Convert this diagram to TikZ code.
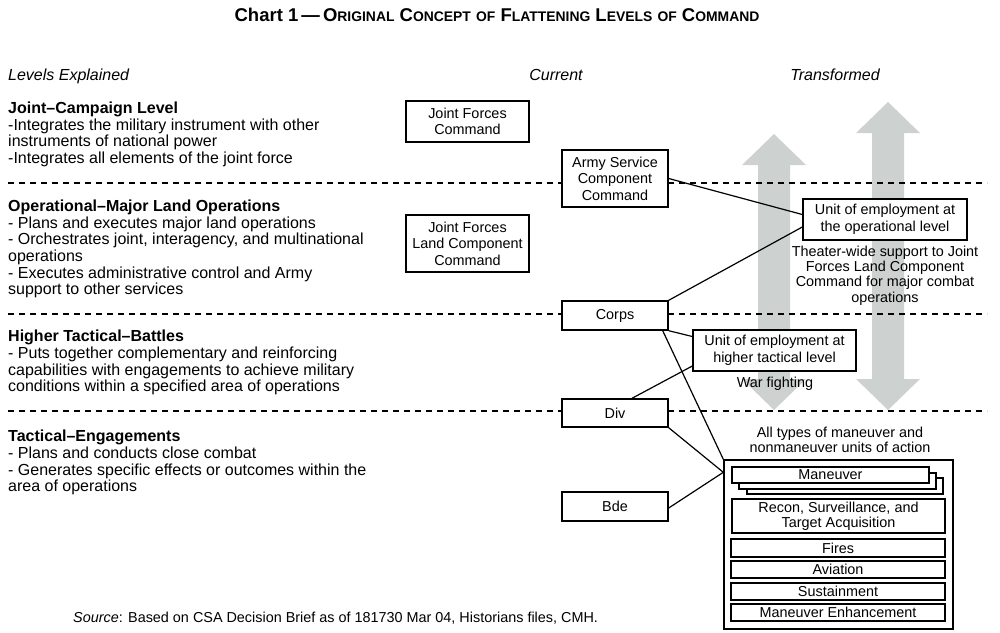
\documentclass[tikz,border=0pt]{standalone}
\usepackage{fontspec}
\setmainfont{Liberation Sans}
\newcommand{\lvtxt}{\fontsize{16}{16.6}\selectfont}
\newcommand{\bxtxt}{\fontsize{14.4}{16.5}\selectfont}
\newcommand{\smc}[1]{{\fontsize{13.9}{14}\selectfont #1}}
\definecolor{arrowgray}{RGB}{205,210,208}
\begin{document}
\begin{tikzpicture}[x=1pt,y=-1pt,
  cbox/.style={draw, line width=1.4pt, fill=white, align=center, inner sep=0pt, font=\bxtxt},
  ibox/.style={draw, line width=1.3pt, fill=white, align=center, inner sep=0pt, font=\bxtxt},
  conn/.style={line width=1.2pt},
  level/.style={anchor=north west, align=left, inner sep=0pt, font=\lvtxt},
  hdr/.style={anchor=base, inner sep=0pt, font=\lvtxt\itshape},
  note/.style={align=center, inner sep=0pt, font=\fontsize{14.4}{15.3}\selectfont},
  sep/.style={line width=1.2pt, dash pattern=on 6pt off 5pt}]
\useasboundingbox (0,0) rectangle (1000,632);

% title
\node[inner sep=0pt, font=\fontsize{18.5}{18.5}\selectfont\bfseries] (title) at (497,15)
  {Chart 1\,—\,O\smc{RIGINAL} C\smc{ONCEPT} \smc{OF} F\smc{LATTENING} L\smc{EVELS} \smc{OF} C\smc{OMMAND}};

% column headers
\node[hdr, anchor=base west] (hlev) at (8,80) {Levels Explained};
\node[hdr] (hcur) at (556,80) {Current};
\node[hdr] (htr) at (835,80) {Transformed};

% gray arrows
\fill[arrowgray] (774,134) -- (806,165) -- (790,165) -- (790,379) -- (806,379) -- (774,410)
  -- (742,379) -- (758,379) -- (758,165) -- (742,165) -- cycle;
\fill[arrowgray] (888,102) -- (920,133) -- (904,133) -- (904,379) -- (920,379) -- (888,410)
  -- (856,379) -- (872,379) -- (872,133) -- (856,133) -- cycle;

% separators
\coordinate (s1a) at (8,183);   \coordinate (s1b) at (987,183);
\coordinate (s2a) at (8,314);   \coordinate (s2b) at (987,314);
\coordinate (s3a) at (8,411);   \coordinate (s3b) at (987,411);
\draw[sep] (s1a) -- (s1b);
\draw[sep] (s2a) -- (s2b);
\draw[sep] (s3a) -- (s3b);

% level texts
\node[level] (l1) at (8,102) {\textbf{Joint–Campaign Level}\\
-Integrates the military instrument with other\\
instruments of national power\\
-Integrates all elements of the joint force};
\node[level] (l2) at (8,200) {\textbf{Operational–Major Land Operations}\\
- Plans and executes major land operations\\
- Orchestrates joint, interagency, and multinational\\
operations\\
- Executes administrative control and Army\\
support to other services};
\node[level] (l3) at (8,330) {\textbf{Higher Tactical–Battles}\\
- Puts together complementary and reinforcing\\
capabilities with engagements to achieve military\\
conditions within a specified area of operations};
\node[level] (l4) at (8,430) {\textbf{Tactical–Engagements}\\
- Plans and conducts close combat\\
- Generates specific effects or outcomes within the\\
area of operations};

% current boxes
\node[cbox, minimum width=123pt, minimum height=41pt] (jfc) at (467.5,121.5) {Joint Forces\\Command};
\node[cbox, minimum width=123pt, minimum height=57pt] (jflcc) at (467.5,243.5) {Joint Forces\\Land Component\\Command};
\node[cbox, minimum width=106pt, minimum height=57pt] (ascc) at (615,178.5) {Army Service\\Component\\Command};
\node[cbox, minimum width=106pt, minimum height=29pt] (corps) at (615,315.5) {Corps};
\node[cbox, minimum width=106pt, minimum height=28pt] (div) at (615,413) {Div};
\node[cbox, minimum width=106pt, minimum height=29pt] (bde) at (615,506.5) {Bde};

% transformed boxes
\node[cbox, minimum width=164pt, minimum height=41pt] (uop) at (885,219.5) {Unit of employment at\\the operational level};
\node[cbox, minimum width=163pt, minimum height=41pt] (utac) at (774.5,350.5) {Unit of employment at\\higher tactical level};

\node[note] (theater) at (885,275.5) {Theater-wide support to Joint\\Forces Land Component\\Command for major combat\\operations};
\node[note] (war) at (775,384) {War fighting};
\node[note] (alltypes) at (840,440) {All types of maneuver and\\nonmaneuver units of action};

% units of action box
\node[draw, line width=1.4pt, fill=white, minimum width=229pt, minimum height=169pt, inner sep=0pt] (bb) at (838.5,544.5) {};
\node[ibox, minimum width=196pt, minimum height=16pt] (man3) at (845,486) {};
\node[ibox, minimum width=197pt, minimum height=16pt] (man2) at (837.5,481) {};
\node[ibox, minimum width=197pt, minimum height=16pt] (man) at (830.5,475) {Maneuver};
\node[ibox, minimum width=213pt, minimum height=34pt, font=\fontsize{14.4}{15}\selectfont] (recon) at (838.5,516) {Recon, Surveillance, and\\Target Acquisition};
\node[ibox, minimum width=214pt, minimum height=18pt] (fires) at (838,548) {Fires};
\node[ibox, minimum width=214pt, minimum height=17pt] (avn) at (838,569.5) {Aviation};
\node[ibox, minimum width=214pt, minimum height=17pt] (sus) at (838,591.5) {Sustainment};
\node[ibox, minimum width=214pt, minimum height=17pt] (me) at (838,612.5) {Maneuver Enhancement};

% connectors
\draw[conn] (ascc.east) -- ([yshift=5pt]uop.west);
\draw[conn] (corps.north east) -- ([yshift=-7.5pt]uop.west);
\draw[conn] (corps.south east) -- ([yshift=14pt]utac.west);
\draw[conn] ([xshift=-6pt]corps.south east) -- (bb.north west);
\draw[conn] ([xshift=17pt]div.north) -- ([yshift=-15.5pt]utac.west);
\draw[conn] (div.south east) -- ([yshift=-13pt]bb.north west);
\draw[conn] ([yshift=-1.5pt]bde.east) -- ([yshift=-13pt]bb.north west);

% source
\node[anchor=west, inner sep=0pt, font=\fontsize{14.4}{15}\selectfont] (src) at (73,618)
  {\textit{Source}: Based on CSA Decision Brief as of 181730 Mar 04, Historians files, CMH.};
\end{tikzpicture}
\end{document}
